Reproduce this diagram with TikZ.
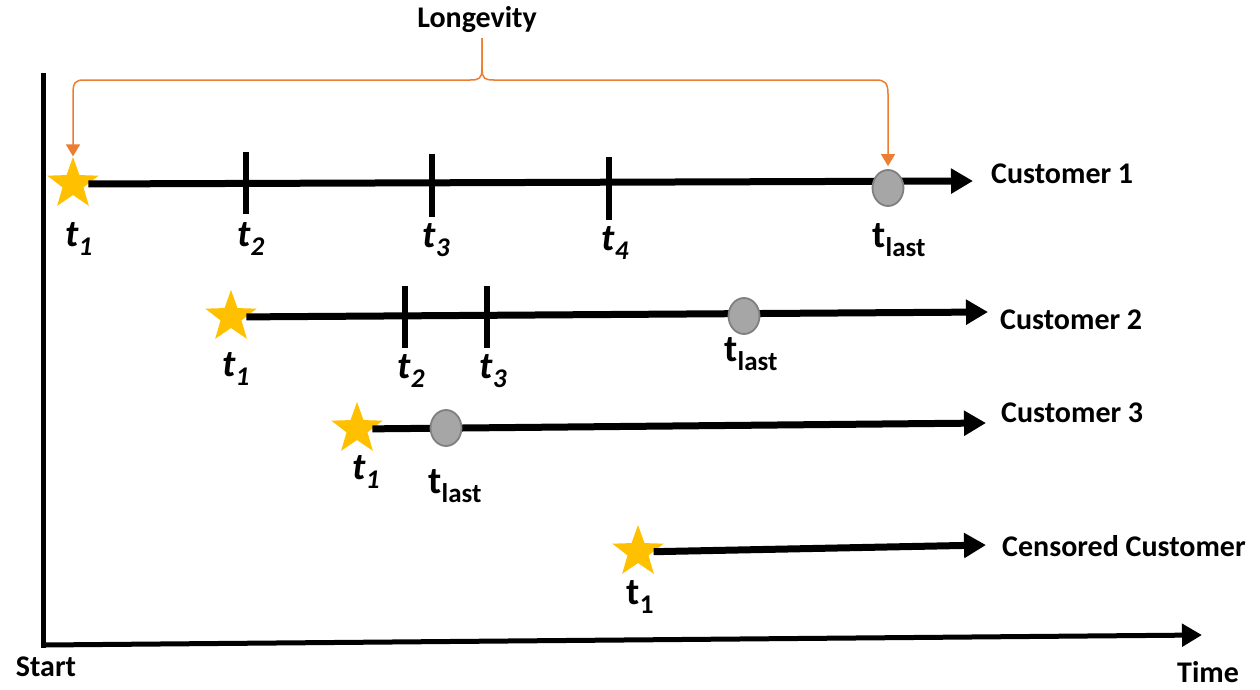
\documentclass[tikz,border=0pt]{standalone}
\usepackage{fontspec}
\setmainfont{Carlito}
\usetikzlibrary{arrows.meta,shapes.geometric}
\definecolor{gold}{HTML}{FFC000}
\definecolor{orng}{HTML}{ED7D31}
\definecolor{dotfill}{HTML}{A6A6A6}
\definecolor{dotline}{HTML}{7F7F7F}
\newcommand{\tit}[1]{{\fontsize{38}{38}\selectfont\bfseries\itshape t\raisebox{-0.22em}{\fontsize{27}{27}\selectfont #1}}}
\newcommand{\tup}[1]{{\fontsize{38}{38}\selectfont\bfseries t\raisebox{-0.22em}{\fontsize{27}{27}\selectfont #1}}}
\begin{document}
\begin{tikzpicture}[x=1pt,y=-1pt,
  startstar/.style={star,star points=5,star point ratio=2.45,fill=gold,draw=none,minimum size=54pt,inner sep=0pt},
  lastdot/.style={ellipse,fill=dotfill,draw=dotline,line width=1.8pt,minimum width=31pt,minimum height=36pt,inner sep=0pt},
  tline/.style={line width=7pt,-{Triangle[length=22pt,width=24pt]}},
  axisline/.style={line width=5pt},
  tickmark/.style={line width=6pt},
  lbl/.style={inner sep=0pt},
  cust/.style={inner sep=0pt,anchor=west,font=\fontsize{30}{36}\selectfont\bfseries},
  brace/.style={orng,line width=1.5pt},
  bracetip/.style={-{Triangle[length=12pt,width=14pt]}}
]
\useasboundingbox (0,0) rectangle (1260,689);

% axes
\coordinate (o) at (43,645);
\coordinate (ytop) at (43,75);
\coordinate (xend) at (1202,635);
\draw[axisline,line cap=rect] (ytop) -- (o);
\draw[axisline,-{Triangle[length=20pt,width=22pt]}] (o) -- (xend);
\node[cust,anchor=center] (start) at (46,667) {Start};
\node[cust,anchor=base] (time) at (1208,682) {Time};

% stars
\node[startstar] (s1) at (73,184) {};
\node[startstar] (s2) at (231,317) {};
\node[startstar] (s3) at (357,429) {};
\node[startstar] (s4) at (638,552) {};

% ends
\coordinate (e1) at (973,181);
\coordinate (e2) at (988,312);
\coordinate (e3) at (986,423);
\coordinate (e4) at (986,545);

\draw[tline] (s1) -- (e1);
\draw[tline] (s2) -- (e2);
\draw[tline] (s3) -- (e3);
\draw[tline] (s4) -- (e4);

% last dots
\node[lastdot] (d1) at (888,188) {};
\node[lastdot] (d2) at (744,316) {};
\node[lastdot] (d3) at (446,428) {};

% ticks
\draw[tickmark] (246,152) -- (246,214);
\draw[tickmark] (432,154) -- (432,217);
\draw[tickmark] (609,157) -- (609,220);
\draw[tickmark] (405,286) -- (405,348);
\draw[tickmark] (487,286) -- (487,348);

% labels
\node[lbl] (l11) at (79,239) {\tit{1}};
\node[lbl] (l12) at (251,239) {\tit{2}};
\node[lbl] (l13) at (436,240) {\tit{3}};
\node[lbl] (l14) at (615,243) {\tit{4}};
\node[lbl] (l1l) at (899,240) {\tup{last}};
\node[lbl] (l21) at (236,369) {\tit{1}};
\node[lbl] (l22) at (411,371) {\tit{2}};
\node[lbl] (l23) at (493,371) {\tit{3}};
\node[lbl] (l2l) at (751,354) {\tup{last}};
\node[lbl] (l31) at (366,472) {\tit{1}};
\node[lbl] (l3l) at (455,486) {\tup{last}};
\node[lbl] (l41) at (640,597) {\tup{1}};

\node[cust] (c1) at (991,174) {Customer 1};
\node[cust] (c2) at (1000,320) {Customer 2};
\node[cust] (c3) at (1001,413) {Customer 3};
\node[cust] (c4) at (1002,546) {Censored Customer};

% longevity brace
\node[cust,anchor=center] (lon) at (477,20) {Longevity};
\coordinate (bt) at (482,38);
\draw[brace,bracetip] (bt) -- (482,68)
  .. controls (482,79) and (479,80) .. (470,80) -- (84,80)
  .. controls (75,80) and (73,83) .. (73,94) -- (s1.north);
\draw[brace,bracetip,shorten >=3pt] (bt) -- (482,68)
  .. controls (482,79) and (485,80) .. (494,80) -- (876,80)
  .. controls (885,80) and (888,83) .. (888,94) -- (d1.north);
\end{tikzpicture}
\end{document}
